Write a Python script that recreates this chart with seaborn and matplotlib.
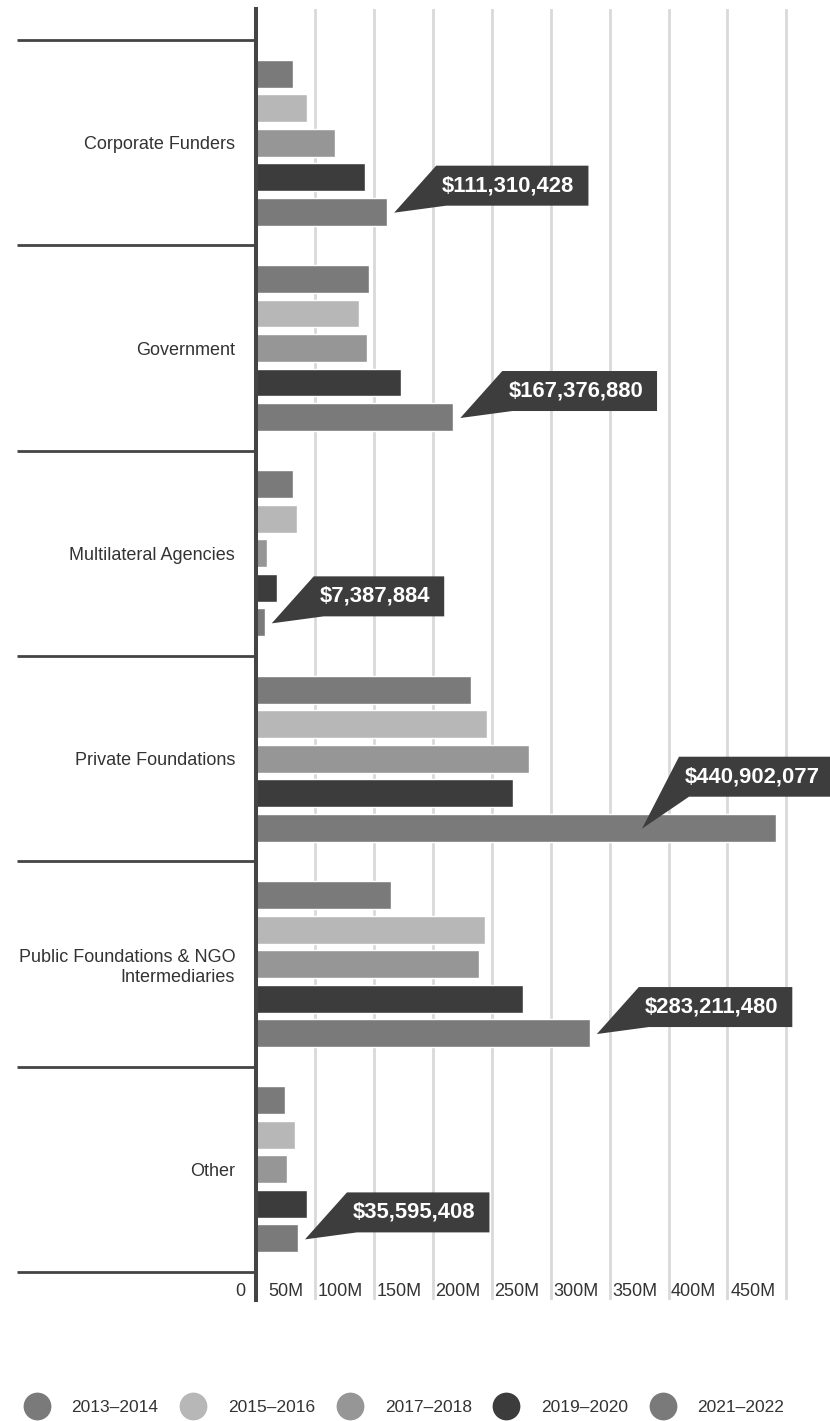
import numpy as np
import pandas as pd
import matplotlib
matplotlib.use("Agg")
import matplotlib.pyplot as plt
import seaborn as sns
from matplotlib.lines import Line2D
from matplotlib.patches import Polygon
from matplotlib.transforms import IdentityTransform

# ---------------- data (values in millions USD) ----------------
categories = ["Corporate Funders", "Government", "Multilateral Agencies",
              "Private Foundations", "Public Foundations & NGO\nIntermediaries", "Other"]
periods = ["2013–2014", "2015–2016", "2017–2018", "2019–2020", "2021–2022"]
v2013 = [31.4, 96.0, 31.4, 182.5, 114.6, 24.6]
v2015 = [43.3, 87.4, 34.8, 196.0, 194.4, 33.1]
v2017 = [67.0, 94.2, 9.3, 231.7, 189.3, 26.3]
v2019 = [92.5, 123.0, 17.8, 218.0, 226.7, 43.3]
v2021 = [111.310428, 167.376880, 7.387884, 440.902077, 283.211480, 35.595408]
callout_labels = ["$111,310,428", "$167,376,880", "$7,387,884",
                  "$440,902,077", "$283,211,480", "$35,595,408"]
xticks = [0, 50, 100, 150, 200, 250, 300, 350, 400, 450]
xtick_labels = ["0", "50M", "100M", "150M", "200M", "250M", "300M", "350M", "400M", "450M"]
colors = ["#7a7a7a", "#b7b7b7", "#969696", "#3c3c3c", "#7a7a7a"]

series = [v2013, v2015, v2017, v2019, v2021]
rows = []
for p, vals in zip(periods, series):
    for c, v in zip(categories, vals):
        rows.append({"category": c, "period": p, "value": v})
df = pd.DataFrame(rows)

# ---------------- style ----------------
sns.set_style("white")
plt.rcParams["font.family"] = ["Liberation Sans", "DejaVu Sans"]

W, H = 830, 1421
fig = plt.figure(figsize=(W / 100, H / 100), dpi=100)
ax_left = 256 / W
ax_bottom = 1 - 1300 / H
ax_height = (1300 - 9) / H
ax = fig.add_axes([ax_left, ax_bottom, 1 - ax_left, ax_height])

sns.barplot(data=df, y="category", x="value", hue="period", orient="h",
            order=categories, hue_order=periods, palette=colors,
            width=0.84, gap=0.19, saturation=1, legend=False, ax=ax,
            errorbar=None)

ax.set_xlim(0, 487)
ax.set_ylim(5.636, -0.651)

ax.set_xlabel("")
ax.set_ylabel("")
ax.set_xticks(xticks)
ax.tick_params(axis="x", length=0, labelbottom=False)
ax.grid(axis="x", color="#d9d9d9", lw=2)
ax.grid(axis="y", visible=False)
ax.set_axisbelow(True)

ax.set_yticks(range(len(categories)))
ax.set_yticklabels(categories, fontsize=13, color="#333333")
ax.tick_params(axis="y", length=0, pad=15)

for s in ["top", "right", "bottom"]:
    ax.spines[s].set_visible(False)
ax.spines["left"].set_color("#444444")
ax.spines["left"].set_linewidth(2.9)
ax.spines["left"].set_zorder(5)

# category separators
ytr = ax.get_yaxis_transform()
sep_left = (17 - 256) / (W - 256)
for b in np.arange(-0.5, len(categories) + 0.5, 1.0):
    ax.plot([sep_left, 0], [b, b], transform=ytr, color="#444444", lw=2,
            clip_on=False, solid_capstyle="butt")

# x tick labels inside the axes, right-aligned before each gridline
for v, lab in zip(xticks, xtick_labels):
    ax.annotate(lab, xy=(v, 0), xycoords=("data", "axes fraction"),
                xytext=(-8, 5.8), textcoords="offset points",
                ha="right", va="center", fontsize=13, color="#333333")

# ---------------- callouts ----------------
fig.canvas.draw()
renderer = fig.canvas.get_renderer()
last = ax.containers[-1]
for i, patch in enumerate(last.patches):
    bar_end = patch.get_x() + patch.get_width()
    yc = patch.get_y() + patch.get_height() / 2
    tx, ty = ax.transData.transform((bar_end, yc))
    tip_x, tip_y = tx + 7, ty - 1
    t = fig.text(0, 0, callout_labels[i], transform=IdentityTransform(),
                 ha="left", va="center", fontsize=15.8, fontweight="bold",
                 color="white", zorder=10)
    tw = t.get_window_extent(renderer).width
    text_left = tip_x + 48
    box_top = tip_y + 47
    if text_left + tw + 14 > W:
        box_right = W + 4
        text_left = box_right - 14 - tw
        tip_x = text_left - 43
        box_top = tip_y + 72
    text_right = text_left + tw
    box_h = 40
    t.set_position((text_left, box_top - box_h / 2))
    tl = (text_left - 6, box_top)
    verts = [tl, (text_right + 14, box_top), (text_right + 14, box_top - box_h),
             (tl[0] + 10, box_top - box_h), (tip_x, tip_y)]
    poly = Polygon(verts, closed=True, transform=IdentityTransform(),
                   facecolor="#3d3d3d", edgecolor="none", zorder=9)
    fig.add_artist(poly)

# ---------------- legend ----------------
handles = [Line2D([], [], marker="o", ls="none", markersize=20,
                  markerfacecolor=c, markeredgecolor="none") for c in colors]
fig.legend(handles, periods, loc="center left",
           bbox_to_anchor=(23 / W, 14 / H), ncol=5, frameon=False,
           fontsize=12.5, handlelength=1.6, handletextpad=1.2,
           columnspacing=1.2, borderpad=0, borderaxespad=0,
           labelcolor="#333333")

fig.savefig("out.png", dpi=100, facecolor="white")
